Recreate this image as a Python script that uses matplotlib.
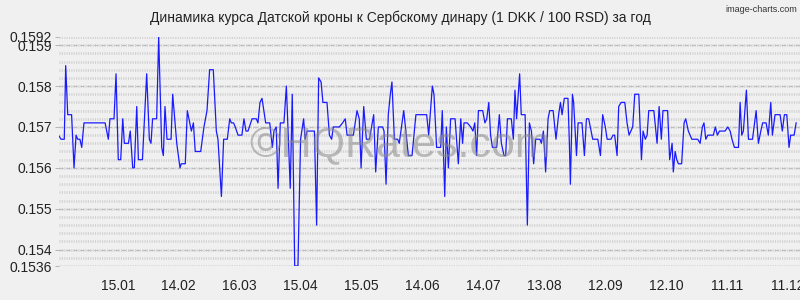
import numpy as np
import matplotlib
matplotlib.use("Agg")
import matplotlib.pyplot as plt

plt.rcParams['font.family'] = ['Liberation Sans', 'DejaVu Sans']
plt.rcParams['lines.scale_dashes'] = False

# day offsets from 17.12 and DKK/RSD rate (per 100 RSD)
days = [0, 1.0, 2.6, 3.3, 4.3, 6.2, 7.4, 8.4, 9.2, 10.3, 11.2, 12.3, 22.7, 23.5, 24.3,
        25.1, 27.1, 28.1, 29.2, 30.4, 31.4, 32.2, 34.2, 35.1, 36.3, 37.1, 38.3, 39.1,
        41.1, 43.2, 44.5, 45.3, 46.1, 48.1, 49.1, 50.6, 51.4, 52.2, 53.2, 55.2, 56.0,
        58.0, 59.6,
        60.2, 62.2, 63.2, 65.2, 66.2, 67.1, 69.8, 71.4, 72.9, 74.2, 76.0, 77.5, 78.3,
        80.0, 81.1, 82.9, 84.1, 84.9, 86.0, 86.8, 88.2, 90.1, 91.1, 92.1, 93.1, 95.1,
        97.2, 98.0, 99.0, 100.0, 101.8, 103.8, 105.1, 105.9, 107.0, 107.9, 109.0,
        110.8, 112.0, 113.9, 114.9, 116.1, 117.7, 119.0,
        120.5, 121.2, 122.2, 125.8, 126.9, 127.9, 129.1, 130.0, 132.0, 133.2, 134.3,
        135.1, 138.1, 139.7, 141.0, 141.9, 145.0, 146.8, 147.9, 148.8, 150.1, 151.4,
        152.9, 155.0, 156.0, 157.3, 159.4, 160.1, 161.1, 162.2, 163.2, 164.0, 165.2,
        166.8, 167.6, 169.8, 172.1, 173.9, 175.8,
        181.1, 182.1, 183.9, 184.7, 186.0, 188.0, 188.8, 190.0, 190.8, 191.8, 192.9,
        195.1, 196.7, 197.9, 198.8, 199.5, 201.1, 202.8, 203.9, 204.8, 205.7, 206.6,
        208.7, 209.8, 210.7, 211.7, 212.6, 213.5, 215.6, 216.9, 217.9, 219.2, 220.0,
        220.9, 222.8, 223.8, 224.6, 225.4, 226.9, 227.7, 229.6, 230.7, 231.7, 232.7,
        233.8, 234.8, 236.9, 237.6, 238.6, 239.7, 240.9,
        241.7, 243.4, 244.8, 246.1, 247.0, 247.8, 248.9, 250.7, 251.4, 251.9, 252.9,
        253.5, 254.9, 255.7, 257.6, 258.8, 259.8, 260.9, 262.9, 265.4, 266.7, 267.8,
        269.1, 270.0, 271.9, 272.9, 273.7, 274.9, 275.7, 276.9, 278.7, 279.8, 280.8,
        282.6, 283.6, 285.6, 286.9, 287.7, 288.8, 289.7, 290.5, 293.0, 294.6, 295.6,
        296.7, 297.5, 299.8, 300.8, 302.0,
        302.6, 303.5, 304.3, 305.1, 306.7, 307.9, 308.7, 310.0, 311.7, 314.6, 315.8,
        316.9, 317.7, 318.6, 319.6, 322.3, 323.3, 324.3, 325.3, 328.1, 329.4, 330.6,
        331.5, 332.7, 334.7, 335.5, 336.3, 337.1, 338.6, 339.6, 341.6, 343.4, 344.5,
        345.7, 346.6, 348.3, 349.4, 350.6, 351.4, 352.7, 355.2, 356.3, 357.3, 358.5,
        359.6, 360.4, 362.1, 363.1]

rates = [0.15678, 0.1567, 0.1567, 0.1585, 0.1573, 0.1573, 0.1560, 0.1568, 0.1567, 0.1567,
         0.1565, 0.1571, 0.1571, 0.1569, 0.1567, 0.1572, 0.1572, 0.1583, 0.1562, 0.1562,
         0.1572, 0.1566, 0.1566, 0.1569, 0.1560, 0.1560, 0.1575, 0.1562, 0.1562, 0.1583,
         0.1567, 0.1566, 0.1572, 0.1572, 0.1592, 0.1565, 0.1563, 0.1575, 0.1567, 0.1567,
         0.1578, 0.1566, 0.1560,
         0.1561, 0.1561, 0.1574, 0.1569, 0.1571, 0.1564, 0.1564, 0.1570, 0.1574, 0.1584,
         0.1584, 0.1569, 0.1567, 0.1553, 0.1567, 0.1567, 0.1572, 0.1571, 0.1571, 0.1570,
         0.1568, 0.1568, 0.1572, 0.1569, 0.1569, 0.1572, 0.1572, 0.1571, 0.1576, 0.1577,
         0.1571, 0.1571, 0.1565, 0.1569, 0.1570, 0.1555, 0.1571, 0.1571, 0.1580, 0.1555,
         0.1578, 0.1536, 0.1536, 0.1567,
         0.1572, 0.1567, 0.1569, 0.1569, 0.1546, 0.1582, 0.1581, 0.1576, 0.1576, 0.1568,
         0.1567, 0.1570, 0.1570, 0.1571, 0.1572, 0.1568, 0.1568, 0.1574, 0.1572, 0.1560,
         0.1575, 0.1567, 0.1567, 0.1573, 0.1559, 0.1570, 0.1570, 0.1569, 0.1556, 0.1573,
         0.1578, 0.1581, 0.1567, 0.1567, 0.1566, 0.1574, 0.1563, 0.1563, 0.1573,
         0.1573, 0.1568, 0.1580, 0.1578, 0.1565, 0.1565, 0.1574, 0.1553, 0.1570, 0.1560,
         0.1572, 0.1572, 0.1561, 0.1572, 0.1566, 0.1571, 0.1571, 0.1570, 0.1569, 0.1571,
         0.1563, 0.1574, 0.1574, 0.1571, 0.1572, 0.1576, 0.1568, 0.1565, 0.1565, 0.1573,
         0.1566, 0.1563, 0.1563, 0.1572, 0.1572, 0.1567, 0.1579, 0.1572, 0.1583, 0.1573,
         0.1573, 0.1546, 0.1571, 0.1569, 0.1561, 0.1567, 0.1567, 0.1566, 0.1569, 0.1559,
         0.1572,
         0.1574, 0.1574, 0.1567, 0.1573, 0.1576, 0.1573, 0.1577, 0.1577, 0.1566, 0.1556,
         0.1578, 0.1576, 0.1563, 0.1571, 0.1571, 0.1563, 0.1572, 0.1572, 0.1567, 0.1567,
         0.1563, 0.1573, 0.1570, 0.1567, 0.1567, 0.1568, 0.1568, 0.1563, 0.1575, 0.1576,
         0.1576, 0.1571, 0.1568, 0.1570, 0.1578, 0.1578, 0.1562, 0.1569, 0.1567, 0.1568,
         0.1574, 0.1574, 0.1566, 0.1575, 0.1567, 0.1574, 0.1574, 0.1562, 0.1566,
         0.1559, 0.1564, 0.1562, 0.1561, 0.1561, 0.1571, 0.1572, 0.1569, 0.1567, 0.1567,
         0.1566, 0.1570, 0.1571, 0.1567, 0.1568, 0.1568, 0.1570, 0.1568, 0.1569, 0.1569,
         0.1570, 0.1569, 0.1567, 0.1565, 0.1565, 0.1576, 0.1568, 0.1569, 0.1579, 0.1567,
         0.1567, 0.1574, 0.1566, 0.1569, 0.1571, 0.1571, 0.1568, 0.1576, 0.1568, 0.1573,
         0.1573, 0.1569, 0.1573, 0.1573, 0.1565, 0.1568, 0.1568, 0.1571]

tick_days = [29, 59, 89, 119, 149, 179, 209, 239, 269, 299, 329, 359]
tick_labels = ["15.01", "14.02", "16.03", "15.04", "15.05", "14.06",
               "14.07", "13.08", "12.09", "12.10", "11.11", "11.12"]
y_ticks = [0.1536, 0.154, 0.155, 0.156, 0.157, 0.158, 0.159, 0.1592]
y_labels = ["0.1536", "0.154", "0.155", "0.156", "0.157", "0.158", "0.159", "0.1592"]

bg = '#f0f0f0'
fig = plt.figure(figsize=(8, 3), dpi=100, facecolor=bg)
ax = fig.add_axes([59/800, 34/300, 741/800, 229/300], facecolor=bg)

# textured grid rows every 0.0002
for v in np.arange(0.1536, 0.15921, 0.0002):
    ax.axhline(v, color='#d2d2d2', lw=2.0, ls=(0, (0.8, 0.9)), zorder=0)
for v in [0.154, 0.155, 0.156, 0.157, 0.158, 0.159]:
    ax.axhline(v, color='#bdbdbd', lw=0.7, ls=(0, (3, 2)), zorder=0)

ax.plot(days, rates, color='#1a1aff', lw=0.9, zorder=3)

ax.set_xlim(0, 365)
ax.set_ylim(0.1536, 0.1592)
ax.set_xticks(tick_days)
ax.set_xticklabels(tick_labels)
ax.set_yticks(y_ticks)
ax.set_yticklabels(y_labels)
ax.tick_params(axis='both', labelsize=10, colors='#222222', length=3, width=0.6)
ax.tick_params(axis='x', length=0, pad=9)
ax.tick_params(axis='y', color='#aaaaaa', pad=2)
for s in ax.spines.values():
    s.set_visible(False)

fig.text(0.5, 0.94, "Динамика курса Датской кроны к Сербскому динару (1 DKK / 100 RSD) за год",
         ha='center', va='center', fontsize=10, color='#222222')
fig.text(0.997, 0.985, "image-charts.com", ha='right', va='top', fontsize=6.5, color='#333333')
fig.text(0.5, 0.515, "©HQRates.com", ha='center', va='center', fontsize=31,
         color='#8a8a8a', alpha=0.55, zorder=5)

fig.savefig("out.png", dpi=100, facecolor=bg)
